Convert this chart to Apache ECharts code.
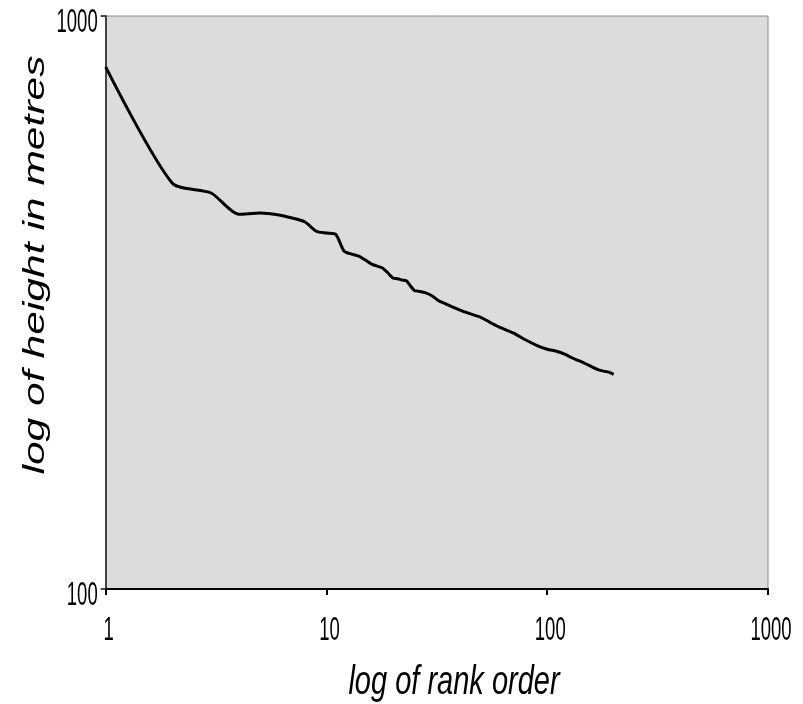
<!DOCTYPE html>
<html>
<head>
<meta charset="utf-8">
<script src="https://cdn.jsdelivr.net/npm/echarts@6/dist/echarts.min.js"></script>
<style>
  html, body { margin: 0; padding: 0; background: #ffffff; }
  #chart { width: 803px; height: 704px; }
</style>
</head>
<body>
<div id="chart"></div>
<script>
// Rank of each building (log scale on x)
const ranks = [1, 2, 3, 4, 5, 6, 7, 8, 9, 10, 11, 12, 13, 14, 15, 16, 17, 18, 19, 20,
  21, 22, 23, 24, 25, 26, 28, 30, 32, 35, 40, 45, 50, 55, 60, 70, 80, 90, 100,
  110, 120, 130, 140, 150, 160, 170, 180, 190, 200];
// Height in metres for each rank
const heights = [815, 511, 491, 451, 453, 450, 444, 437, 421, 418, 416, 389, 384, 381, 375, 369, 366, 363, 356, 349,
  348, 346, 345, 338, 332, 331, 329, 325, 319, 314, 307, 302, 298, 292, 287, 280, 272, 266, 262,
  260, 257, 253, 250, 247, 244, 241.5, 240, 239, 237];
// Tick labels on the two log axes
const xTicks = [1, 10, 100, 1000];
const yTicks = [100, 1000];
const xTitle = 'log of rank order';
const yTitle = 'log of height in metres';

const points = ranks.map((r, i) => [r, heights[i]]);

const chart = echarts.init(document.getElementById('chart'), null, { renderer: 'canvas' });

const FONT = '"Liberation Sans", Arial, sans-serif';

chart.setOption({
  animation: false,
  backgroundColor: '#ffffff',
  grid: {
    left: 105.7,
    right: 35,
    top: 16,
    bottom: 115,
    outerBoundsMode: 'none',
    containLabel: false,
    show: true,
    backgroundColor: '#dcdcdc',
    borderColor: '#8a8a8a',
    borderWidth: 1
  },
  xAxis: {
    type: 'log',
    logBase: 10,
    min: xTicks[0],
    max: xTicks[xTicks.length - 1],
    axisLine: { show: true, lineStyle: { color: '#000000', width: 2 } },
    axisTick: { show: true, inside: false, length: 6, lineStyle: { color: '#000000', width: 2 } },
    minorTick: { show: false },
    splitLine: { show: false },
    axisLabel: { show: false }
  },
  yAxis: {
    type: 'log',
    logBase: 10,
    min: yTicks[0],
    max: yTicks[yTicks.length - 1],
    axisLine: { show: true, lineStyle: { color: '#444444', width: 2 } },
    axisTick: { show: true, inside: false, length: 5, lineStyle: { color: '#444444', width: 2 } },
    minorTick: { show: false },
    splitLine: { show: false },
    axisLabel: { show: false }
  },
  series: [{
    type: 'line',
    data: points,
    smooth: 0.25,
    showSymbol: false,
    lineStyle: { color: '#000000', width: 3 },
    clip: true
  }]
});

// Axis text is drawn tall and narrow, so it is laid out as scaled graphic text
// anchored at the axis positions that the chart computes.
const toX = v => chart.convertToPixel({ xAxisIndex: 0 }, v);
const toY = v => chart.convertToPixel({ yAxisIndex: 0 }, v);
const grid = chart.getModel().getComponent('grid').coordinateSystem.getRect();

const texts = [];
xTicks.forEach(v => {
  texts.push({
    type: 'text', x: toX(v) + 3, y: grid.y + grid.height + 42, scaleY: 1.75,
    style: { text: String(v), font: '18.5px ' + FONT, fill: '#000', align: 'center', verticalAlign: 'middle' },
    silent: true
  });
});
yTicks.forEach(v => {
  texts.push({
    type: 'text', x: grid.x - 8, y: toY(v) + 7, scaleY: 1.75,
    style: { text: String(v), font: '18.5px ' + FONT, fill: '#000', align: 'right', verticalAlign: 'middle' },
    silent: true
  });
});
texts.push({
  type: 'text', x: 454, y: 683, scaleY: 1.4,
  style: { text: xTitle, font: 'italic 29px ' + FONT, fill: '#000', align: 'center', verticalAlign: 'middle' },
  silent: true
});
texts.push({
  type: 'text', x: 36, y: 265, rotation: Math.PI / 2, scaleX: 1.42,
  style: { text: yTitle, font: 'italic 30px ' + FONT, fill: '#000', align: 'center', verticalAlign: 'middle' },
  silent: true
});

chart.setOption({ graphic: texts });
</script>
</body>
</html>
